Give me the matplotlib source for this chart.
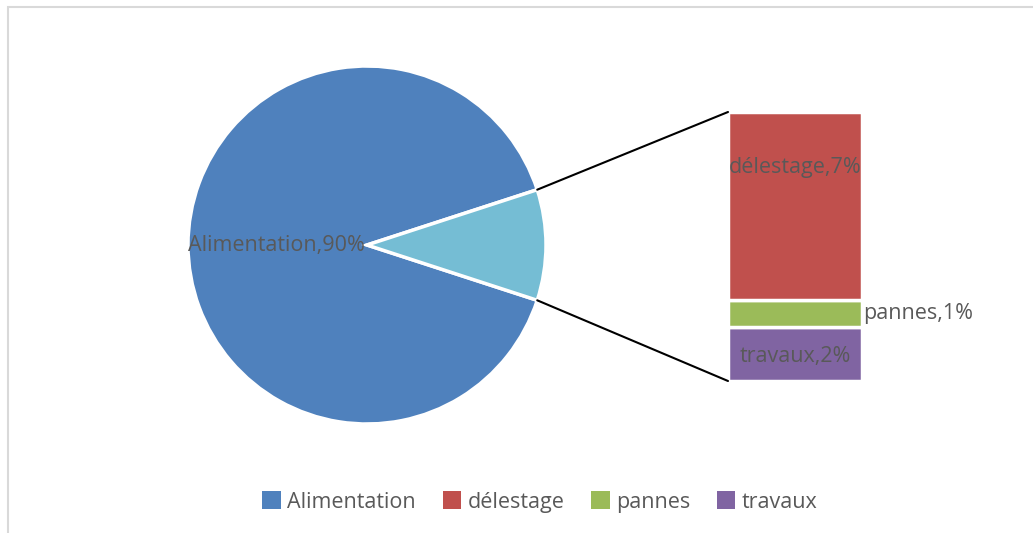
import numpy as np
import matplotlib.pyplot as plt
from matplotlib.patches import ConnectionPatch, Patch, Rectangle

plt.rcParams['font.family'] = ['Open Sans', 'DejaVu Sans']

# Data
pie_labels = ['Alimentation', 'Autres']
pie_values = [90, 10]
bar_labels = ['travaux', 'pannes', 'délestage']
bar_values = [2, 1, 7]

pie_colors = ['#4F81BD', '#75BDD4']
bar_colors = {'délestage': '#C0504D', 'pannes': '#9BBB59', 'travaux': '#8064A2'}
legend_order = ['Alimentation', 'délestage', 'pannes', 'travaux']
legend_colors = ['#4F81BD', '#C0504D', '#9BBB59', '#8064A2']
text_color = '#595959'
fs = 15.5

W, H = 1033, 533
fig = plt.figure(figsize=(W / 100, H / 100), dpi=100)

# light chart-area border
fig.patches.append(Rectangle((8 / W, -0.1), 1.2, 1.1 - 7 / H,
                             transform=fig.transFigure, fill=False,
                             edgecolor='#D9D9D9', linewidth=1.5))

# pie
r = 179
ax1 = fig.add_axes([(367 - r) / W, (H - 245 - r) / H, 2 * r / W, 2 * r / H])
other_angle = 360 * pie_values[1] / sum(pie_values)
ax1.pie(pie_values, colors=pie_colors, startangle=other_angle / 2,
        wedgeprops=dict(edgecolor='white', linewidth=2.5))
ax1.set_xlim(-1, 1)
ax1.set_ylim(-1, 1)
ax1.axis('off')
ax1.text(-0.01, 0, f'{pie_labels[0]},{pie_values[0]}%', ha='right', va='center',
         fontsize=fs, color=text_color)

# stacked bar of the "other" slice
ax2 = fig.add_axes([728 / W, (H - 381) / H, 134 / W, 269 / H])
bottom = 0
for lab, val in zip(bar_labels, bar_values):
    ax2.bar(0, val, width=1, bottom=bottom, color=bar_colors[lab],
            edgecolor='white', linewidth=2.5)
    if lab == 'délestage':
        ax2.text(0, bottom + val - 2.05, f'{lab},{val}%', ha='center', va='center',
                 fontsize=fs, color=text_color)
    elif lab == 'pannes':
        ax2.text(0.51, bottom + val / 2, f'{lab},{val}%', ha='left', va='center',
                 fontsize=fs, color=text_color)
    else:
        ax2.text(0, bottom + val / 2 - 0.1, f'{lab},{val}%', ha='center', va='center',
                 fontsize=fs, color=text_color)
    bottom += val
ax2.set_xlim(-0.5, 0.5)
ax2.set_ylim(0, sum(bar_values))
ax2.axis('off')

# connector lines
theta = np.deg2rad(other_angle / 2)
for sign, yb in [(1, sum(bar_values)), (-1, 0)]:
    con = ConnectionPatch(xyA=(-0.5, yb), coordsA=ax2.transData,
                          xyB=(np.cos(theta), sign * np.sin(theta)), coordsB=ax1.transData,
                          color='black', linewidth=1.5)
    fig.add_artist(con)

# legend
handles = [Patch(facecolor=c, edgecolor='none') for c in legend_colors]
fig.legend(handles, legend_order, loc='center', bbox_to_anchor=(540 / W, (H - 502) / H),
           ncol=4, frameon=False, fontsize=fs, handlelength=0.85, handleheight=0.85,
           handletextpad=0.3, columnspacing=1.25, labelcolor=text_color)

fig.savefig('out.png', dpi=100)
